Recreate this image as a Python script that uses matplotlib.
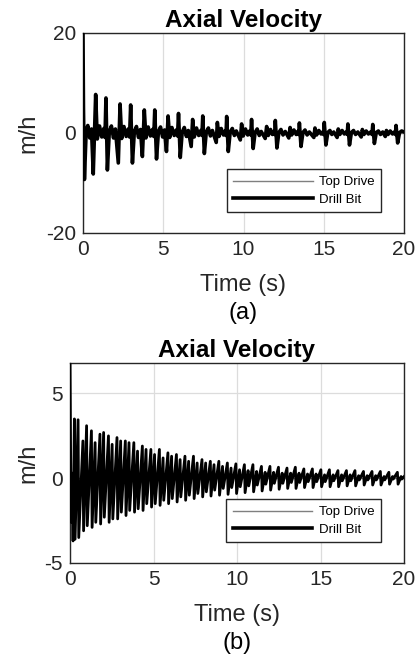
import numpy as np
import matplotlib
matplotlib.use('Agg')
import matplotlib.pyplot as plt

plt.rcParams['font.family'] = ['Liberation Sans', 'DejaVu Sans']
plt.rcParams['axes.unicode_minus'] = False

# (a) drill bit axial velocity, vertices (t [s], v [m/h])
t_bit_a = [0, 0.03, 0.09, 0.2, 0.3, 0.42, 0.53,
           0.64, 0.79, 0.89, 1.03, 1.17, 1.3, 1.37, 1.43, 1.52, 1.64, 1.77, 1.9, 2.02,
           2.2, 2.31, 2.41, 2.55, 2.69, 2.82, 2.9, 2.97, 3.08, 3.2, 3.33, 3.46, 3.58,
           3.7, 3.82, 3.92, 4.06, 4.2, 4.33, 4.41, 4.47, 4.58, 4.7, 4.83, 4.96, 5.08,
           5.2, 5.3, 5.4, 5.54, 5.68, 5.81, 5.89, 5.95, 6.06, 6.18, 6.31, 6.44, 6.56,
           6.74, 6.83, 6.93, 7.07, 7.21, 7.34, 7.41, 7.46, 7.56, 7.68, 7.81, 7.94, 8.06,
           8.3, 8.37, 8.47, 8.61, 8.75, 8.86, 8.91, 8.95, 9.05, 9.17, 9.3, 9.43, 9.55,
           9.8, 9.88, 9.98, 10.12, 10.26, 10.38, 10.45, 10.5, 10.6, 10.72, 10.85, 10.98, 11.1,
           11.35, 11.44, 11.54, 11.68, 11.8, 11.9, 11.94, 11.98, 12.08, 12.2, 12.33, 12.46, 12.6,
           12.82, 12.9, 13.0, 13.14, 13.28, 13.38, 13.44, 13.48, 13.58, 13.7, 13.83, 13.96, 14.1,
           14.38, 14.45, 14.55, 14.69, 14.83, 14.93, 14.99, 15.03, 15.13, 15.25, 15.38, 15.5, 15.62,
           15.83, 15.9, 16.0, 16.14, 16.28, 16.4, 16.46, 16.5, 16.6, 16.72, 16.85, 16.98, 17.12,
           17.33, 17.4, 17.5, 17.64, 17.78, 17.92, 18.0, 18.05, 18.15, 18.27, 18.4, 18.53, 18.67,
           18.83, 18.9, 19.0, 19.14, 19.28, 19.4, 19.46, 19.5, 19.6, 19.72, 19.85, 20.0]
v_bit_a = [20, 5, -9.3, 0.5, 1.5, -1.0, 0.8,
           -8.2, 7.7, -1.2, 1.4, -0.8, 0.9, -0.9, 7.0, -7.4, 0.3, 1.4, -1.0, 0.8,
           -6.0, 5.8, -1.1, 1.3, -0.7, 0.8, -0.8, 5.6, -6.0, 0.3, 1.3, -0.9, 0.7,
           -4.7, 4.6, -1.0, 1.2, -0.6, 0.7, -0.7, 4.6, -5.2, 0.3, 1.2, -0.8, 0.6,
           -3.7, 3.4, -0.9, 1.1, -0.5, 0.6, -0.6, 3.9, -4.9, 0.2, 1.1, -0.7, 0.5,
           -2.7, 2.7, -0.8, 1.0, -0.5, 0.5, -0.5, 3.4, -4.1, 0.2, 1.0, -0.6, 0.5,
           -1.9, 2.1, -0.7, 0.9, -0.4, 0.4, -0.5, 3.3, -3.7, 0.2, 0.9, -0.5, 0.4,
           -1.4, 1.8, -0.6, 0.8, -0.4, 0.4, -0.4, 2.7, -3.1, 0.1, 0.8, -0.5, 0.3,
           -1.1, 1.3, -0.5, 0.7, -0.3, 0.3, -0.3, 2.5, -3.0, 0.1, 0.7, -0.4, 0.3,
           -1.0, 1.1, -0.4, 0.6, -0.3, 0.3, -0.3, 2.0, -2.7, 0.1, 0.6, -0.4, 0.2,
           -0.9, 1.0, -0.4, 0.5, -0.2, 0.2, -0.3, 2.1, -2.4, 0.1, 0.5, -0.3, 0.2,
           -0.9, 0.8, -0.3, 0.5, -0.2, 0.2, -0.3, 1.8, -2.4, 0.1, 0.5, -0.3, 0.2,
           -0.8, 0.7, -0.3, 0.4, -0.2, 0.2, -0.3, 1.7, -2.1, 0.1, 0.4, -0.3, 0.2,
           -0.7, 0.5, -0.3, 0.4, -0.2, 0.2, -0.3, 1.5, -2.0, 0.1, 0.4, 0.2]

# (b) drill bit: start transient + two bars per cycle
t_start_b = [0, 0.06, 0.12, 0.18]
v_start_b = [6.7, -2.6, 0.3, -3.7]
t_cycle_b = [0.26, 0.77, 1.28, 1.79, 2.30, 2.81, 3.31, 3.82, 4.33, 4.84,
             5.35, 5.86, 6.37, 6.88, 7.39, 7.90, 8.40, 8.91, 9.42, 9.93,
             10.44, 10.95, 11.46, 11.97, 12.48, 12.99, 13.49, 14.00, 14.51, 15.02,
             15.53, 16.04, 16.55, 17.06, 17.57, 18.08, 18.58, 19.09, 19.60]
hi1_b = [3.5, 2.2, 2.8, 2.6, 2.5, 2.4, 2.2, 2.1, 1.9, 1.7, 1.7, 1.5, 1.4, 1.3, 1.3, 1.1, 1.0, 1.0, 0.9, 0.85,
         0.8, 0.8, 0.7, 0.7, 0.65, 0.6, 0.65, 0.55, 0.55, 0.5, 0.5, 0.45, 0.45, 0.45, 0.4, 0.4, 0.4, 0.35, 0.35]
lo1_b = [-3.6, -3.1, -2.9, -2.7, -2.6, -2.4, -2.2, -2.0, -1.9, -1.7, -1.6, -1.5, -1.4, -1.3, -1.2, -1.1, -1.05, -1.0, -0.95, -0.9,
         -0.85, -0.8, -0.75, -0.7, -0.65, -0.6, -0.6, -0.55, -0.55, -0.5, -0.5, -0.5, -0.45, -0.45, -0.4, -0.4, -0.4, -0.35, -0.35]
hi2_b = [3.45, 3.1, 2.1, 2.7, 2.0, 2.2, 2.1, 1.6, 1.7, 1.4, 1.2, 1.3, 1.1, 1.0, 0.9, 0.9, 0.8, 0.7, 0.6, 0.5,
         0.45, 0.4, 0.35, 0.35, 0.3, 0.3, 0.3, 0.25, 0.25, 0.2, 0.2, 0.2, 0.2, 0.15, 0.15, 0.15, 0.1, 0.1, 0.1]
lo2_b = [-3.5, -2.8, -2.6, -2.3, -2.4, -2.0, -1.9, -1.8, -1.5, -1.5, -1.3, -1.2, -1.1, -1.0, -0.9, -0.8, -0.7, -0.6, -0.55, -0.5,
         -0.45, -0.4, -0.35, -0.3, -0.3, -0.25, -0.25, -0.2, -0.2, -0.2, -0.15, -0.15, -0.15, -0.1, -0.1, -0.1, -0.1, -0.05, -0.05]
t_end_b = [20.0]
v_end_b = [0.1]

# top drive stays at zero in both cases
t_top = [0, 20]
v_top = [0, 0]

xticks = [0, 5, 10, 15, 20]
yticks_a = [-20, 0, 20]
yticks_b = [-5, 0, 5]

# build the (b) polyline from the cycle values (sharp drop after each peak)
bar_offs = [0.0, 0.04, 0.22, 0.26]
t_bit_b = list(t_start_b)
v_bit_b = list(v_start_b)
for i, tc in enumerate(t_cycle_b):
    t_bit_b += [tc + o for o in bar_offs]
    v_bit_b += [hi1_b[i], lo1_b[i], hi2_b[i], lo2_b[i]]
t_bit_b += t_end_b
v_bit_b += v_end_b

fig = plt.figure(figsize=(4.17, 6.57), dpi=100)
ax1 = fig.add_axes([0.199, 0.6454, 0.770, 0.3044])
ax2 = fig.add_axes([0.168, 0.1431, 0.801, 0.3044])


def style(ax, ylim, yticks, ypad):
    ax.set_xlim(0, 20)
    ax.set_ylim(*ylim)
    ax.set_xticks(xticks)
    ax.set_yticks(yticks)
    ax.grid(True, color='#dcdcdc', lw=0.9)
    ax.set_axisbelow(True)
    ax.tick_params(direction='in', length=0, labelsize=15, colors='#262626')
    ax.tick_params(axis='x', pad=5)
    ax.tick_params(axis='y', pad=ypad)
    for s in ax.spines.values():
        s.set_color('#262626')
        s.set_linewidth(1.0)
    leg = ax.legend(loc='lower right', bbox_to_anchor=(0.95, 0.07), fontsize=9.5,
                    handlelength=6.0, handletextpad=0.5, labelspacing=0.4,
                    borderpad=0.5, fancybox=False, framealpha=1, edgecolor='#262626')
    leg.get_frame().set_linewidth(1.0)
    leg.set_zorder(5)
    for h in leg.get_lines():
        h.set_linewidth(h.get_linewidth())


ax1.plot(t_top, v_top, color='#7f7f7f', lw=1.0, label='Top Drive', zorder=3)
ax1.plot(t_bit_a, v_bit_a, color='black', lw=2.6, label='Drill Bit', zorder=3)
style(ax1, (-20, 20), yticks_a, 5)

ax2.plot(t_top, v_top, color='#7f7f7f', lw=1.0, label='Top Drive', zorder=3)
ax2.plot(t_bit_b, v_bit_b, color='black', lw=2.0, label='Drill Bit', zorder=3)
style(ax2, (-5, 6.8), yticks_b, 5)
ax2.get_legend().get_lines()[1].set_linewidth(2.6)

fig.text(0.583, 0.9589, 'Axial Velocity', ha='center', va='baseline', fontsize=17.5, fontweight='bold')
fig.text(0.567, 0.457, 'Axial Velocity', ha='center', va='baseline', fontsize=17.5, fontweight='bold')
fig.text(0.067, 0.7976, 'm/h', rotation=90, ha='center', va='center', fontsize=17, color='#262626')
fig.text(0.067, 0.2953, 'm/h', rotation=90, ha='center', va='center', fontsize=17, color='#262626')
fig.text(0.583, 0.566, 'Time (s)', ha='center', va='center', fontsize=17, color='#262626')
fig.text(0.568, 0.064, 'Time (s)', ha='center', va='center', fontsize=17, color='#262626')
fig.text(0.583, 0.5236, '(a)', ha='center', va='center', fontsize=17)
fig.text(0.568, 0.0213, '(b)', ha='center', va='center', fontsize=17)

fig.savefig('out.png', dpi=100)
